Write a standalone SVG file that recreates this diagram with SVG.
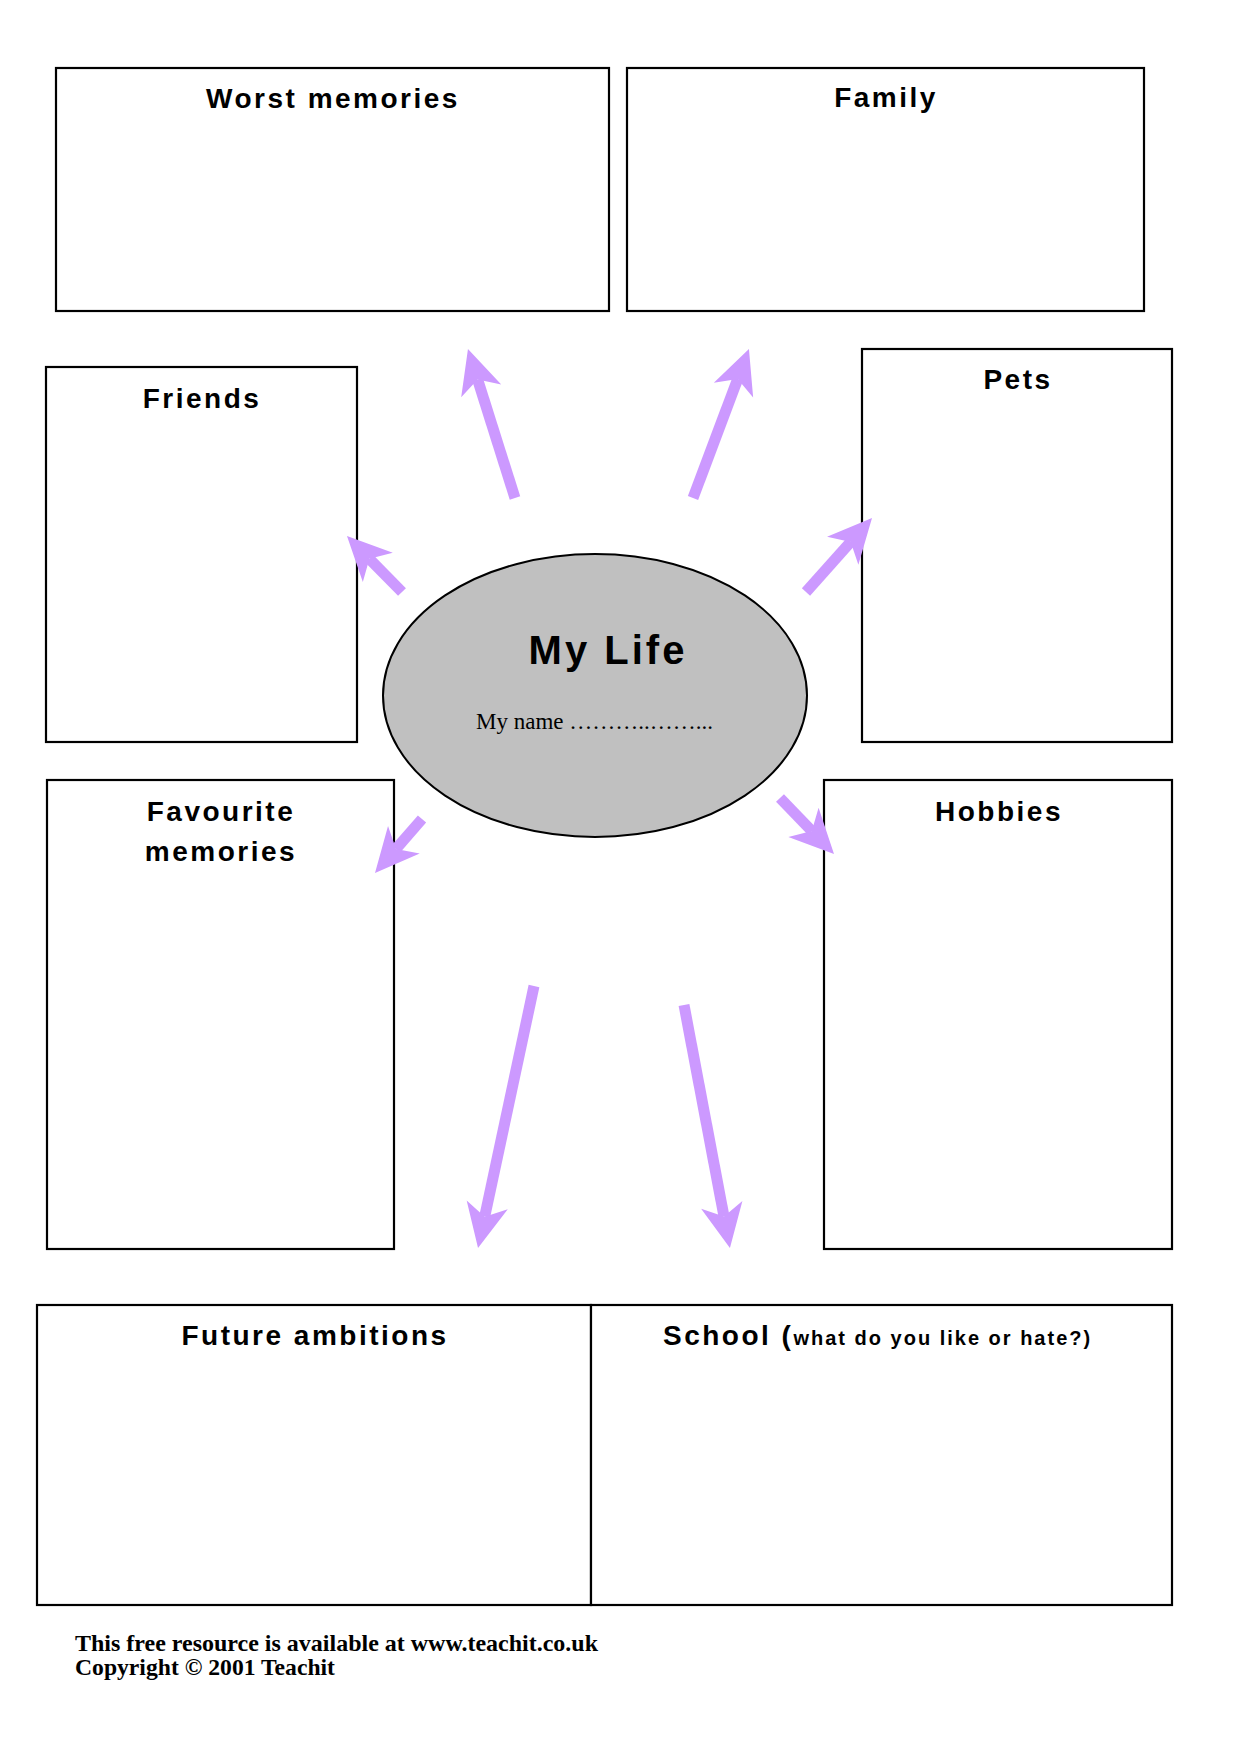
<svg xmlns="http://www.w3.org/2000/svg" width="1239" height="1754" viewBox="0 0 1239 1754">
  <defs>
    <style>
      .box { fill: #ffffff; stroke: #000000; stroke-width: 2.2; }
      .title { font-family: "Liberation Sans", Arial, sans-serif; font-weight: bold; font-size: 28px; letter-spacing: 2.5px; fill: #000000; text-anchor: middle; }
      .small { font-size: 20px; letter-spacing: 2px; }
      .shaft { stroke: #cc99ff; stroke-width: 11; fill: none; stroke-linecap: butt; }
      .foot { font-family: "Liberation Serif", "Times New Roman", serif; font-weight: bold; font-size: 23px; fill: #000000; }
    </style>
    <marker id="head" markerUnits="userSpaceOnUse" orient="auto" refX="0" refY="0" markerWidth="60" markerHeight="60" overflow="visible">
      <path d="M32,0 L-12,-21 L0,0 L-12,21 Z" fill="#cc99ff"/>
    </marker>
  </defs>
  <rect width="1239" height="1754" fill="#ffffff"/>

  <g id="worst-memories">
    <rect class="box" x="56" y="68" width="553" height="243"/>
    <text class="title" x="333" y="108">Worst memories</text>
  </g>
  <g id="family">
    <rect class="box" x="627" y="68" width="517" height="243"/>
    <text class="title" x="886" y="107">Family</text>
  </g>
  <g id="friends">
    <rect class="box" x="46" y="367" width="311" height="375"/>
    <text class="title" x="202" y="408">Friends</text>
  </g>
  <g id="pets">
    <rect class="box" x="862" y="349" width="310" height="393"/>
    <text class="title" x="1018" y="389">Pets</text>
  </g>
  <g id="favourite-memories">
    <rect class="box" x="47" y="780" width="347" height="469"/>
    <text class="title" x="221" y="821">Favourite</text>
    <text class="title" x="221" y="861">memories</text>
  </g>
  <g id="hobbies">
    <rect class="box" x="824" y="780" width="348" height="469"/>
    <text class="title" x="999" y="821">Hobbies</text>
  </g>
  <g id="future-ambitions">
    <rect class="box" x="37" y="1305" width="554" height="300"/>
    <text class="title" x="315" y="1345">Future ambitions</text>
  </g>
  <g id="school">
    <rect class="box" x="591" y="1305" width="581" height="300"/>
    <text class="title" x="663" y="1345" style="text-anchor:start">School (<tspan class="small">what do you like or hate?)</tspan></text>
  </g>

  <g id="connectors">
    <line class="shaft" x1="515" y1="498" x2="477.6" y2="379.5" marker-end="url(#head)"/>
    <line class="shaft" x1="693" y1="498" x2="737.7" y2="379.0" marker-end="url(#head)"/>
    <line class="shaft" x1="806" y1="592" x2="850.7" y2="541.9" marker-end="url(#head)"/>
    <line class="shaft" x1="402" y1="592" x2="369.4" y2="558.8" marker-end="url(#head)"/>
    <line class="shaft" x1="422" y1="819" x2="396.0" y2="848.9" marker-end="url(#head)"/>
    <line class="shaft" x1="780" y1="798" x2="811.8" y2="831.0" marker-end="url(#head)"/>
    <line class="shaft" x1="534" y1="986" x2="484.7" y2="1216.7" marker-end="url(#head)"/>
    <line class="shaft" x1="684" y1="1005" x2="724.0" y2="1216.6" marker-end="url(#head)"/>
  </g>

  <g id="my-life">
    <ellipse cx="595" cy="695.5" rx="212" ry="141.5" fill="#c0c0c0" stroke="#000000" stroke-width="2"/>
    <text class="title" x="608" y="664" style="font-size:40px;letter-spacing:3px">My Life</text>
    <text x="476" y="729" style="font-family:'Liberation Serif','Times New Roman',serif;font-size:23px;fill:#000000">My name ………..……...</text>
  </g>

  <g id="footer">
    <text class="foot" x="75" y="1651" textLength="523" lengthAdjust="spacingAndGlyphs">This free resource is available at www.teachit.co.uk</text>
    <text class="foot" x="75" y="1675" textLength="260" lengthAdjust="spacingAndGlyphs">Copyright © 2001 Teachit</text>
  </g>
</svg>
